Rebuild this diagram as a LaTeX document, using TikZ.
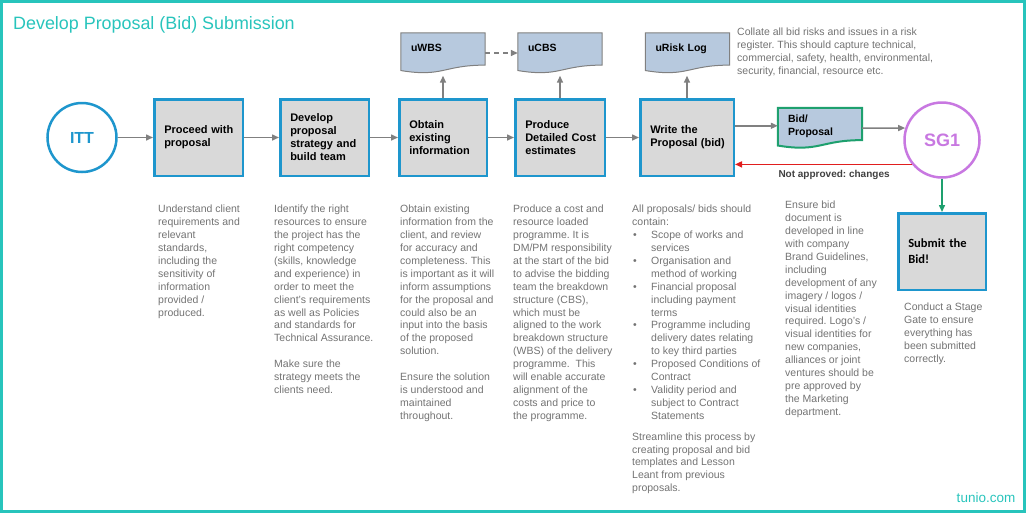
\documentclass[tikz,border=0pt]{standalone}
\usepackage{fontspec}
\setmainfont{Liberation Sans}
\newfontfamily\calibrifont{Carlito}
\usetikzlibrary{calc,arrows.meta,backgrounds}
\frenchspacing

\definecolor{frameteal}{RGB}{40,196,188}
\definecolor{boxblue}{RGB}{30,150,205}
\definecolor{boxgray}{RGB}{217,217,217}
\definecolor{docblue}{RGB}{183,201,222}
\definecolor{docline}{RGB}{128,128,128}
\definecolor{arrowgray}{RGB}{128,128,128}
\definecolor{textgray}{RGB}{115,115,115}
\definecolor{bidgreen}{RGB}{30,160,110}
\definecolor{sgviolet}{RGB}{200,120,225}
\definecolor{nored}{RGB}{225,30,30}

\newcommand{\bulitem}{\makebox[19pt][l]{\hspace{1pt}\textbullet}}
\newcommand{\bulind}{\hspace*{19pt}}

\begin{document}
\begin{tikzpicture}[x=1pt,y=-1pt,
  stepbox/.style={draw=boxblue, line width=2.5pt, fill=boxgray, minimum height=76.5pt,
    inner xsep=10pt, align=left, font=\fontsize{11}{13}\selectfont\bfseries},
  docbox/.style={minimum width=84pt, minimum height=40pt, inner xsep=10pt, text width=64pt,
    align=left, text depth=10pt, font=\fontsize{10.5}{12.5}\selectfont\bfseries},
  note/.style={anchor=north west, inner sep=0pt, align=left, text=textgray,
    font=\fontsize{10.5}{12.9}\selectfont},
  flow/.style={draw=arrowgray, line width=1.5pt, -{Triangle[length=7pt,width=6pt]}},
  gate/.style={circle, line width=2.5pt, fill=white, font=\bfseries},
]
\useasboundingbox (0,0) rectangle (1028,515);

% frame and title
\draw[frameteal, line width=3.5pt] (1.5,1.5) rectangle (1024.5,511.5);
\node[anchor=base west, inner sep=0pt, text=frameteal, font=\fontsize{17.9}{20}\selectfont] (title) at (13,29) {Develop Proposal (Bid) Submission};
\node[text=frameteal, font=\fontsize{13.5}{15}\selectfont] (site) at (986,498) {tunio.com};

% process steps
\node[gate, draw=boxblue, minimum size=69pt, text=boxblue, font=\fontsize{16}{18}\selectfont\bfseries] (itt) at (82,137.5) {ITT};
\node[stepbox, text width=68.5pt] (proceed) at (198.5,137.5) {Proceed~with\\ proposal};
\node[stepbox, text width=68.5pt] (strategy) at (324.5,137.5) {Develop\\ proposal\\ strategy~and\\ build~team};
\node[stepbox, text width=67.5pt] (obtain) at (443,137.5) {Obtain\\ existing\\ information};
\node[stepbox, text width=69.5pt] (produce) at (560,137.5) {Produce\\ Detailed~Cost\\ estimates};
\node[stepbox, text width=73.5pt] (write) at (687,137.5) {Write~the\\ Proposal~(bid)};
\node[gate, draw=sgviolet, minimum size=75pt, text=sgviolet, font=\fontsize{18}{20}\selectfont\bfseries] (sg) at (942,140) {SG1};
\node[stepbox, text width=67.5pt, font=\calibrifont\fontsize{12.5}{16}\selectfont\bfseries] (submit) at (942,251.5) {Submit~the\\ Bid!};

% documents
\node[docbox] (wbs) at (443,53) {uWBS};
\node[docbox] (cbs) at (560,53) {uCBS};
\node[docbox] (risk) at (687.5,53) {uRisk~Log};
\node[docbox, text depth=18pt] (bid) at (820,128) {Bid/\\ Proposal};
\begin{scope}[on background layer]
\foreach \n/\c/\w in {wbs/docline/1, cbs/docline/1, risk/docline/1, bid/bidgreen/2}
  \draw[draw=\c, fill=docblue, line width=\w pt] (\n.north west) -- (\n.north east)
    -- ($(\n.north east)!0.8!(\n.south east)$)
    .. controls ($(\n.north)!0.8!(\n.south)$) and ($(\n.north)!1.107!(\n.south)$)
    .. ($(\n.north west)!0.934!(\n.south west)$) -- cycle;
\end{scope}

% connectors
\draw[flow] (itt) -- (proceed);
\draw[flow] (proceed) -- (strategy);
\draw[flow] (strategy) -- (obtain);
\draw[flow] (obtain) -- (produce);
\draw[flow] (produce) -- (write);
\draw[flow, shorten >=2.5pt] (obtain) -- (wbs);
\draw[flow, shorten >=2.5pt] (produce) -- (cbs);
\draw[flow, shorten >=2.5pt] (write.north) -- (write.north |- risk.south);
\draw[flow, dashed, dash pattern=on 5pt off 4pt] (wbs) -- (cbs);
\draw[flow] (write.east |- bid.177) -- (bid.177);
\draw[flow] (bid.east) -- (sg.162);
\draw[flow, draw=nored] (sg.219) -- (sg.219 -| write.east)
  node[pos=0.44, below=5pt, inner sep=0pt, text=black!75, font=\fontsize{10}{12}\selectfont\bfseries] {Not approved: changes};
\draw[flow, draw=bidgreen] (sg) -- (submit);

% notes
\node[note] (risknote) at (737,28) {Collate all bid risks and issues in a risk\\ register. This should capture technical,\\ commercial, safety, health, environmental,\\ security, financial, resource etc.};
\node[note] (clientnote) at (158,205) {Understand client\\ requirements and\\ relevant\\ standards,\\ including the\\ sensitivity of\\ information\\ provided /\\ produced.};
\node[note] (teamnote) at (274,205) {Identify the right\\ resources to ensure\\ the project has the\\ right competency\\ (skills, knowledge\\ and experience) in\\ order to meet the\\ client's requirements\\ as well as Policies\\ and standards for\\ Technical Assurance.\\[12.9pt] Make sure the\\ strategy meets the\\ clients need.};
\node[note] (infonote) at (400,205) {Obtain existing\\ information from the\\ client, and review\\ for accuracy and\\ completeness. This\\ is important as it will\\ inform assumptions\\ for the proposal and\\ could also be an\\ input into the basis\\ of the proposed\\ solution.\\[12.9pt] Ensure the solution\\ is understood and\\ maintained\\ throughout.};
\node[note] (costnote) at (513,205) {Produce a cost and\\ resource loaded\\ programme. It is\\ DM/PM responsibility\\ at the start of the bid\\ to advise the bidding\\ team the breakdown\\ structure (CBS),\\ which must be\\ aligned to the work\\ breakdown structure\\ (WBS) of the delivery\\ programme.~ This\\ will enable accurate\\ alignment of the\\ costs and price to\\ the programme.};
\node[note] (bidnote) at (632,205) {All proposals/ bids should\\ contain:\\
  \bulitem Scope of works and\\ \bulind services\\
  \bulitem Organisation and\\ \bulind method of working\\
  \bulitem Financial proposal\\ \bulind including payment\\ \bulind terms\\
  \bulitem Programme including\\ \bulind delivery dates relating\\ \bulind to key third parties\\
  \bulitem Proposed Conditions of\\ \bulind Contract\\
  \bulitem Validity period and\\ \bulind subject to Contract\\ \bulind Statements\\[8pt]
  Streamline this process by\\ creating proposal and bid\\ templates and Lesson\\ Leant from previous\\ proposals.};
\node[note] (brandnote) at (785,201) {Ensure bid\\ document is\\ developed in line\\ with company\\ Brand Guidelines,\\ including\\ development of any\\ imagery / logos /\\ visual identities\\ required. Logo's /\\ visual identities for\\ new companies,\\ alliances or joint\\ ventures should be\\ pre approved by\\ the Marketing\\ department.};
\node[note] (gatenote) at (904,303) {Conduct a Stage\\ Gate to ensure\\ everything has\\ been submitted\\ correctly.};

\end{tikzpicture}
\end{document}
